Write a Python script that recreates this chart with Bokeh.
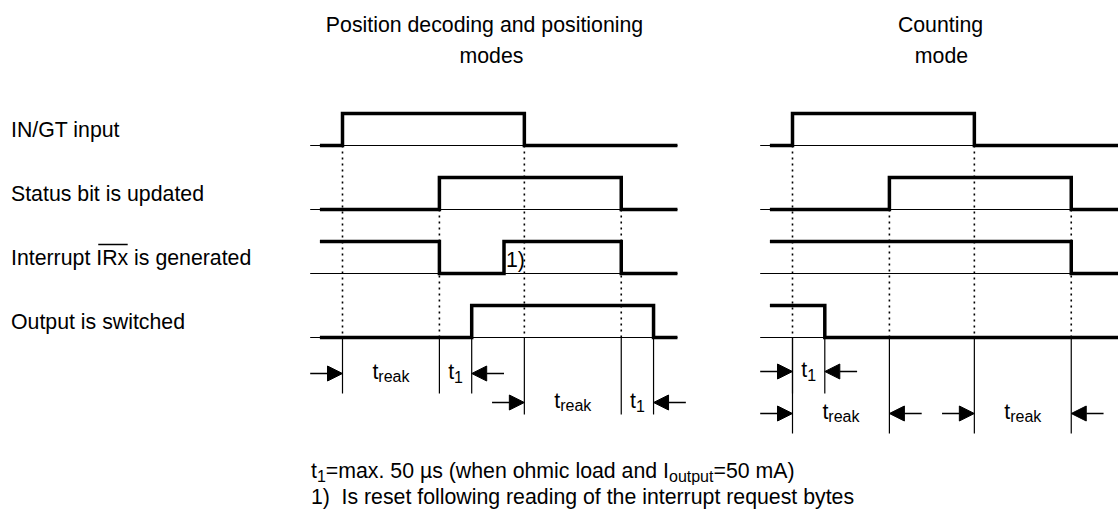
from bokeh.plotting import figure
from bokeh.models import Range1d, ColumnDataSource, Arrow, NormalHead
from bokeh.embed import file_html
from bokeh.resources import INLINE
from bokeh.core.properties import value

# ---------------- data ----------------
title_pos = ["Position decoding and positioning", "modes"]
title_cnt = ["Counting", "mode"]
signal_names = ["IN/GT input", "Status bit is updated",
                "Interrupt IRx is generated", "Output is switched"]

# time unit = t1 ; t_reak = 3 t1 ; levels 0 = low, 1 = high
pos_start_level = [0, 0, 1, 0]
pos_edges = [[0.0, 5.63], [3.0, 8.63], [3.0, 5.0, 8.63], [4.0, 9.63]]
cnt_start_level = [0, 0, 1, 1]
cnt_edges = [[0.0, 5.63], [3.0, 8.63], [8.63], [1.0]]

# measurement chains: boundaries, subscript labels, measurement row
pos_meas_bounds = [[0.0, 3.0, 4.0], [5.63, 8.63, 9.63]]
pos_meas_labels = [["reak", "1"], ["reak", "1"]]
pos_meas_row = [0, 1]
cnt_meas_bounds = [[0.0, 1.0], [0.0, 3.0], [5.63, 8.63]]
cnt_meas_labels = [["1"], ["reak"], ["reak"]]
cnt_meas_row = [0, 1, 1]

reset_note = "1)"
footnote1 = [("t", 0), ("1", 1), ("=max. 50 \u00b5s (when ohmic load and I", 0),
             ("output", 1), ("=50 mA)", 0)]
footnote2 = ["1)", "Is reset following reading of the interrupt request bytes"]

# ---------------- layout ----------------
W, H = 1118, 521
PX_X = 32.3          # px per time unit
PX_Y = 32.0          # px per level unit
ORIGIN_PX = 342.0    # page x of t = 0 in left panel
BASE_PX = 145.0      # page y of first signal baseline
FONT = "Liberation Sans"
MAIN = 21.3
SUB = 16
BASE_FIX = 8.0 / 21.3   # renderer places 'alphabetic' text lower; lift by this * size


def X(px):
    return (px - ORIGIN_PX) / PX_X


def Y(py):
    return (BASE_PX - py) / PX_Y


AW = {' ': 278, '!': 278, '(': 333, ')': 333, '.': 278, '=': 584, '/': 278,
      '0': 556, '1': 556, '5': 556, '\u00b5': 576,
      'a': 556, 'b': 556, 'c': 500, 'd': 556, 'e': 556, 'f': 278, 'g': 556,
      'h': 556, 'i': 222, 'k': 500, 'l': 222, 'm': 833, 'n': 556, 'o': 556,
      'p': 556, 'q': 556, 'r': 333, 's': 500, 't': 278, 'u': 556, 'w': 722,
      'x': 500, 'y': 500, 'A': 667, 'I': 278, 'R': 722, 'M': 833}


def tw(s, size):
    return sum(AW.get(c, 556) for c in s) * size / 1000.0


panels = [
    dict(shift=0.0, start=pos_start_level, edges=pos_edges, t_thin=-1.0, t0=-0.7,
         t_end=10.37, bounds=pos_meas_bounds, labels=pos_meas_labels,
         mrow=pos_meas_row, mrow_y=[373, 402], mrow_bottom=[393, 414],
         title=title_pos, title_x=[484, 491]),
    dict(shift=450 / PX_X, start=cnt_start_level, edges=cnt_edges, t_thin=-1.0,
         t0=-0.7, t_end=10.6, bounds=cnt_meas_bounds, labels=cnt_meas_labels,
         mrow=cnt_meas_row, mrow_y=[371, 413], mrow_bottom=[393, 433],
         title=title_cnt, title_x=[940, 941]),
]

p = figure(width=W, height=H, x_range=Range1d(X(0), X(W)),
           y_range=Range1d(Y(H), Y(0)), output_backend="svg",
           toolbar_location=None, x_axis_location=None, y_axis_location=None,
           min_border=0, title=None)
p.grid.visible = False
p.outline_line_color = None
p.background_fill_color = "white"
p.border_fill_color = "white"


def add_text(xs, ys, texts, size, align="left"):
    lift = BASE_FIX * size / PX_Y
    p.text(x=xs, y=[y + lift for y in ys], text=texts, text_font=value(FONT),
           text_font_size=value(f"{size}px"), text_align=align,
           text_baseline="alphabetic", text_color="black")


thin = dict(x0=[], y0=[], x1=[], y1=[])
dots = dict(x0=[], y0=[], x1=[], y1=[])
meas = dict(x0=[], y0=[], x1=[], y1=[])
arrows = dict(x0=[], y0=[], x1=[], y1=[])
sig_xs, sig_ys = [], []
t_x, t_y, t_s = [], [], []
s_x, s_y, s_s = [], [], []

for pan in panels:
    sh = pan["shift"]
    for r, (lvl0, edges) in enumerate(zip(pan["start"], pan["edges"])):
        base = -2 * r
        thin["x0"].append(sh + pan["t_thin"]); thin["x1"].append(sh + pan["t_end"])
        thin["y0"].append(base); thin["y1"].append(base)
        lvl = lvl0
        xs, ys = [sh + pan["t0"]], [base + lvl]
        for e in edges:
            xs += [sh + e, sh + e]
            ys += [base + lvl, base + 1 - lvl]
            lvl = 1 - lvl
        xs.append(sh + pan["t_end"]); ys.append(base + lvl)
        sig_xs.append(xs); sig_ys.append(ys)
        if r < 2:
            for e in edges:
                dots["x0"].append(sh + e); dots["x1"].append(sh + e)
                dots["y0"].append(base); dots["y1"].append(-6)
    for bounds, labs, mr in zip(pan["bounds"], pan["labels"], pan["mrow"]):
        ry = Y(pan["mrow_y"][mr])
        bot = Y(pan["mrow_bottom"][mr])
        for b in bounds:
            meas["x0"].append(sh + b); meas["x1"].append(sh + b)
            meas["y0"].append(-6); meas["y1"].append(bot)
        arrows["x0"] += [sh + bounds[0] - 1, sh + bounds[-1] + 1]
        arrows["x1"] += [sh + bounds[0], sh + bounds[-1]]
        arrows["y0"] += [ry, ry]
        arrows["y1"] += [ry, ry]
        for i, lab in enumerate(labs):
            c = sh + (bounds[i] + bounds[i + 1]) / 2
            wt, ws = tw("t", MAIN), tw(lab, SUB)
            left = c - (wt + ws) / 2 / PX_X
            t_x.append(left); t_y.append(ry - 6 / PX_Y); t_s.append("t")
            s_x.append(left + wt / PX_X); s_y.append(ry - 9.5 / PX_Y); s_s.append(lab)
    # titles
    add_text([X(pan["title_x"][0]), X(pan["title_x"][1])], [Y(32), Y(63)],
             pan["title"], MAIN, "center")

p.segment(x0="x0", y0="y0", x1="x1", y1="y1", source=ColumnDataSource(thin),
          line_color="black", line_width=1)
p.segment(x0="x0", y0="y0", x1="x1", y1="y1", source=ColumnDataSource(dots),
          line_color="black", line_width=1.6, line_dash="2 4")
p.segment(x0="x0", y0="y0", x1="x1", y1="y1", source=ColumnDataSource(meas),
          line_color="black", line_width=1.2)
p.multi_line(xs=sig_xs, ys=sig_ys, line_color="black", line_width=3.5,
             line_join="miter", line_cap="butt")
p.add_layout(Arrow(end=NormalHead(size=15, fill_color="black", line_color="black",
                                  line_width=1),
                   x_start="x0", y_start="y0", x_end="x1", y_end="y1",
                   source=ColumnDataSource(arrows), line_color="black", line_width=1.5))

add_text(t_x, t_y, t_s, MAIN)
add_text(s_x, s_y, s_s, SUB)

# row labels
lab_x = 10.5
add_text([X(lab_x)] * 4, [-2 * r + 7.5 / PX_Y for r in range(4)], signal_names, MAIN)
ol0 = lab_x + tw("Interrupt ", MAIN) + 2
ol1 = lab_x + tw("Interrupt IRx", MAIN) - 0.5
p.segment(x0=[X(ol0)], y0=[Y(244)], x1=[X(ol1)], y1=[Y(244)],
          line_color="black", line_width=1.4)

# reset marker at interrupt re-activation
add_text([pos_edges[2][1] + 2 / PX_X], [-4 + 6 / PX_Y], [reset_note], MAIN)

# footnotes
fx = 310.5
for s, is_sub in footnote1:
    size = SUB if is_sub else MAIN
    add_text([X(fx)], [Y(482 if is_sub else 478)], [s], size)
    fx += tw(s, size)
add_text([X(310.5), X(341)], [Y(504), Y(504)], footnote2, MAIN)

open("out.html", "w").write(file_html(p, INLINE))
